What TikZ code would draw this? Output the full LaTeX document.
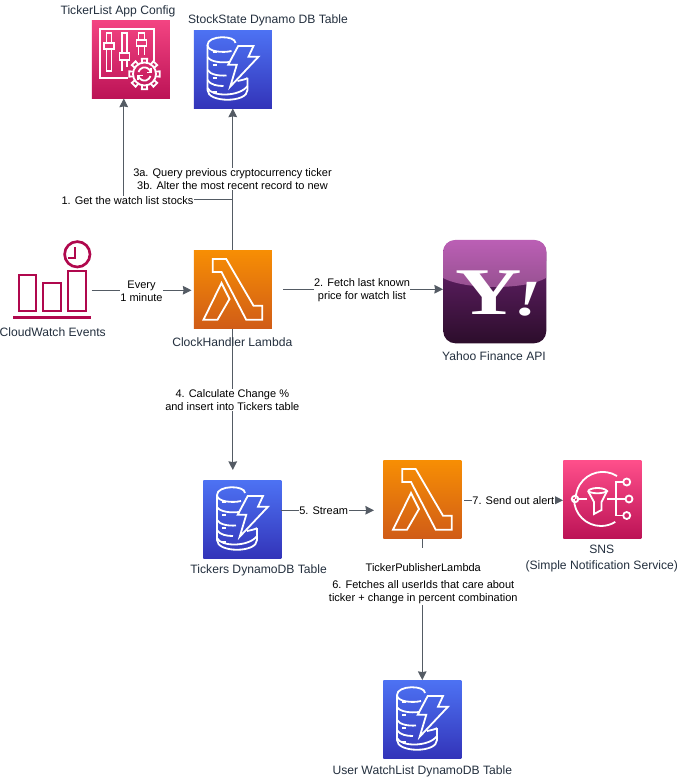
\documentclass[tikz,border=0pt]{standalone}
\usepackage{fontspec}
\setmainfont{Liberation Sans}
\newfontfamily\yfont{Liberation Serif}
\usetikzlibrary{arrows.meta,calc}
\definecolor{edgecol}{HTML}{545B64}
\definecolor{nodetxt}{HTML}{232F3E}
\definecolor{cwred}{HTML}{B0084D}
\definecolor{dyntop}{HTML}{4D72F3}
\definecolor{dynbot}{HTML}{3334B9}
\definecolor{lamtop}{HTML}{F78E04}
\definecolor{lambot}{HTML}{D05C17}
\definecolor{pinktop}{HTML}{F34482}
\definecolor{snstop}{HTML}{FF4F8B}
\definecolor{pinkbot}{HTML}{BC1356}
\definecolor{yhtop}{HTML}{BB5FB5}
\definecolor{yhmid}{HTML}{95508F}
\definecolor{yhlow}{HTML}{6E2475}
\definecolor{yhbot}{HTML}{2C0D2B}
\tikzset{
  x=0.75pt,y=-0.75pt,
  svc/.style={rectangle,minimum size=58.5pt,inner sep=0pt,anchor=north west},
  dynbox/.style={svc,top color=dyntop,bottom color=dynbot},
  lambox/.style={svc,top color=lamtop,bottom color=lambot},
  cfgbox/.style={svc,top color=pinktop,bottom color=pinkbot},
  snsbox/.style={svc,top color=snstop,bottom color=pinkbot},
  ink/.style={draw=white,line width=1.35pt,line join=miter,fill=none},
  cwink/.style={draw=cwred,line width=1.7pt,fill=none},
  conn/.style={draw=edgecol,line width=0.75pt},
  arrowed/.style={conn,-{Stealth[length=6.5pt,width=6.5pt,inset=0.6pt]}},
  elabel/.style={fill=white,inner sep=0.4pt,align=center,text=black,font=\fontsize{8.25}{9.75}\selectfont},
  nlabel/.style={inner sep=0pt,align=center,text=nodetxt,font=\fontsize{9.1}{12}\selectfont},
  pics/dynamoicon/.style={code={
    \draw[ink] (14,15) .. controls (14,5) and (42,5) .. (42,13);
    \draw[ink] (14,15) .. controls (14,22) and (30,23) .. (38,21);
    \draw[ink] (14,15) -- (14,60) .. controls (14,73) and (54,73) .. (54,60) -- (54,48);
    \draw[ink] (14,27) .. controls (17,32) and (28,33) .. (36,32);
    \draw[ink] (14,40) .. controls (17,45) and (26,46) .. (33,45.5);
    \draw[ink] (14,50) .. controls (17,55) and (24,56) .. (30,56);
    \draw[ink] (14,58) .. controls (18,67) and (46,67) .. (54,56);
    \draw[ink] (44,51) .. controls (49,50) and (53,49) .. (54,48);
    \draw[ink] (19,22) -- (23,22) (19,35) -- (23,35) (19,48) -- (23,48) (19,62) -- (23,62);
    \draw[ink] (44.7,16) -- (60,16) -- (55,26.7) -- (65,26.7) -- (36.7,56.7) -- (43.3,34.7) -- (34.7,34.7) -- cycle;
  }},
  pics/lambdaicon/.style={code={
    \draw[ink] (19.3,9) -- (32.7,9) -- (60,55.7) -- (68.7,55.7) -- (68.7,69.7) -- (52.7,69.7) -- (28,22) -- (19.3,22) -- cycle;
    \draw[ink] (28,33) -- (36,49) -- (24,69.7) -- (10,69.7) -- cycle;
  }},
  pics/configicon/.style={code={
    \draw[ink] (62.3,41) -- (62.3,9) -- (8.3,9) -- (8.3,58) -- (36.7,58);
    \draw[ink] (15,23) -- (15,13) -- (20,13) -- (20,23) (15,29) -- (15,51) -- (20,51) -- (20,29);
    \draw[ink] (12.5,23) rectangle (22.5,29);
    \draw[ink] (30.5,33) -- (30.5,13) -- (35.5,13) -- (35.5,33) (30.5,40) -- (30.5,51) (35.5,40) -- (35.5,47);
    \draw[ink] (28,33) rectangle (38,40);
    \draw[ink] (47,20) -- (47,13) -- (53,13) -- (53,20) (47,26) -- (47,35) (53,26) -- (53,35);
    \draw[ink] (45,20) rectangle (55,26);
    \draw[ink] (53,54) circle[radius=11.5];
    \foreach \a in {0,45,...,315}{
      \draw[ink] ($(53,54)+(\a-12:11.5)$) -- ($(53,54)+(\a-10:15.5)$) -- ($(53,54)+(\a+10:15.5)$) -- ($(53,54)+(\a+12:11.5)$);
    }
    \draw[ink] (59,52) arc[start angle=-15,end angle=-165,radius=6.2];
    \draw[ink] (47,56) arc[start angle=165,end angle=15,radius=6.2];
    \draw[ink] (59.5,48) -- (59.5,52.5) -- (55,52.5);
    \draw[ink] (46.5,60) -- (46.5,55.5) -- (51,55.5);
  }},
  pics/snsicon/.style={code={
    \draw[ink] (54,16) arc[start angle=-58,end angle=-180,radius=27];
    \draw[ink] (11,39) arc[start angle=180,end angle=58,radius=27];
    \draw[ink] (12,39) circle[radius=3.3];
    \draw[ink] (15.3,39) -- (24,39);
    \draw[ink] (25,31) .. controls (28,27) and (41,27) .. (44,31) .. controls (41,34) and (28,34) .. (25,31);
    \draw[ink] (25,31) -- (31,42) -- (31,54) -- (38.5,50) -- (38.5,42) -- (44,31);
    \draw[ink] (44,39) -- (62.5,39);
    \draw[ink] (66,39) circle[radius=3.5];
    \draw[ink] (60,22) -- (53,22) -- (53,55.5) -- (60,55.5);
    \draw[ink] (63.7,22) circle[radius=3.5];
    \draw[ink] (63.7,55.5) circle[radius=3.5];
  }},
}
\begin{document}
\begin{tikzpicture}
\useasboundingbox (0,0) rectangle (678,780);
% service boxes
\node[svc] (cw) at (13,240) {};
\node[cfgbox] (cfg) at (91.5,20) {};
\node[dynbox] (stock) at (193.5,30) {};
\node[lambox] (clock) at (193.5,250) {};
\node[svc,minimum size=77.25pt,rounded corners=9pt,top color=yhlow,bottom color=yhbot] (yahoo) at (443,240) {};
\node[dynbox] (tick) at (203,480) {};
\node[lambox] (pub) at (383,460) {};
\node[snsbox] (sns) at (563,460) {};
\node[dynbox] (user) at (383,680) {};
% icons
\pic at (cfg.north west) {configicon};
\pic at (stock.north west) {dynamoicon};
\pic at (clock.north west) {lambdaicon};
\pic at (tick.north west) {dynamoicon};
\pic at (pub.north west) {lambdaicon};
\pic at (sns.north west) {snsicon};
\pic at (user.north west) {dynamoicon};
% CloudWatch icon
\draw[cwink] (18.7,275) rectangle (36,311);
\draw[cwink] (43.3,283) rectangle (61,311);
\draw[cwink] (68.3,270.7) rectangle (86,311);
\draw[cwink,line width=2.2pt] (13.3,317.3) -- (90.7,317.3);
\draw[cwink,line width=2pt] (77.3,254.3) circle[radius=12.7];
\draw[cwink] (75,247) -- (75,258) -- (68,258);
% Yahoo gloss and logo
\begin{scope}
\clip[rounded corners=9pt] (yahoo.north west) rectangle (yahoo.south east);
\shade[top color=yhtop,bottom color=yhmid] (yahoo.north west) -- (yahoo.north east) -- (546,278) .. controls (525,290) and (465,290) .. (443,278) -- cycle;
\end{scope}
\node[inner sep=0pt,text=white,xscale=1.38,font=\yfont\bfseries\fontsize{50}{50}\selectfont] (ylogo) at (489,293) {Y};
\node[inner sep=0pt,text=white,xscale=1.35,font=\yfont\bfseries\itshape\fontsize{38}{38}\selectfont] (ybang) at (528,299) {!};
% connector anchors
\coordinate (bend1) at ($(clock.north)+(0,-50)$);
\coordinate (bend2) at ($(cfg.south |- bend1)+(-7,0)$);
\coordinate (ticktip) at ($(tick.north -| clock.south)+(0,-10)$);
\coordinate (s5a) at (281,510.3);
\coordinate (s5b) at (374,510.3);
% connectors
\draw[arrowed] ([yshift=-0.75pt]cw.east |- clock.west) -- ([xshift=-1.5pt,yshift=-0.75pt]clock.west);
\draw[arrowed,shorten <=8.25pt] (clock.east) -- (clock.east -| yahoo.west);
\draw[arrowed] (clock.north) -- (stock.south);
\draw[conn] (clock.north) -- (bend1) -- (bend2);
\draw[arrowed] (bend2) -- (bend2 |- cfg.south);
\draw[arrowed] (clock.south) -- (ticktip);
\draw[arrowed] (s5a) -- (s5b);
\draw[arrowed,shorten <=2pt] ([yshift=-0.75pt]pub.east) -- ([yshift=-0.75pt]sns.west);
\draw[arrowed] (pub.south) -- (user.north);
% edge labels
\node[elabel] (lbl0) at (141.5,291) {Every\\1 minute};
\node[elabel] (lbl2) at (362,290) {2. Fetch last known\\price for watch list};
\node[elabel] (lbl3) at (232.5,179) {3a. Query previous cryptocurrency ticker\\3b. Alter the most recent record to new};
\node[elabel] (lbl1) at (127.5,201) {1. Get the watch list stocks};
\node[elabel] (lbl4) at (232.3,400) {4. Calculate Change \%\\and insert into Tickers table};
\node[elabel] (lbl5) at (323.7,511) {5. Stream};
\node[elabel] (lbl7) at (513.3,501) {7. Send out alert};
\node[elabel] (lbl6) at (423.3,592.5) {6. Fetches all userIds that care about\\ticker + change in percent combination};
% node labels
\node[nlabel] (tcfg) at (118,11) {TickerList App Config};
\node[nlabel] (tstock) at (268,20.7) {StockState Dynamo DB Table};
\node[nlabel] (tcw) at (52.7,331.7) {CloudWatch Events};
\node[nlabel] (tclock) at (232.3,341.7) {ClockHandler Lambda};
\node[nlabel] (tyahoo) at (494,355.7) {Yahoo Finance API};
\node[nlabel] (ttick) at (258.7,570.7) {Tickers DynamoDB Table};
\node[nlabel,anchor=base,fill=white,text=black,text height=17.6pt,text depth=6.4pt,font=\fontsize{8.25}{9.75}\selectfont] (tpub) at (423.3,571.5) {TickerPublisherLambda};
\node[nlabel] (tsns) at (601.8,559) {SNS\\(Simple Notification Service)};
\node[nlabel] (tuser) at (422.3,771) {User WatchList DynamoDB Table};
\end{tikzpicture}
\end{document}
